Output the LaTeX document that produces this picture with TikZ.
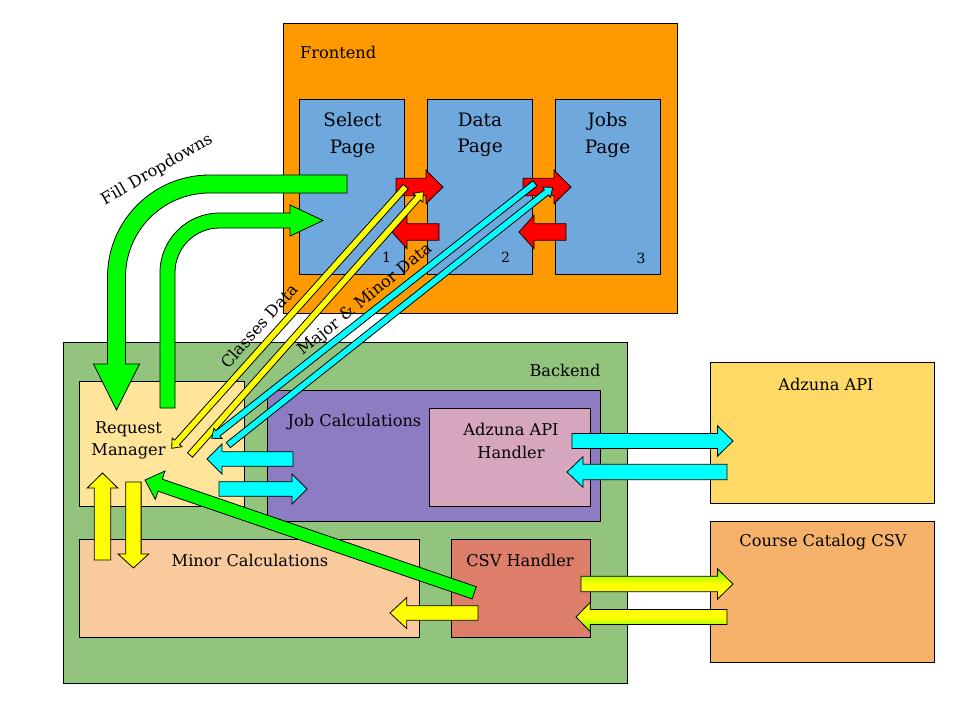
\documentclass[tikz,border=0pt]{standalone}
\usepackage{fontspec}
\setmainfont{DejaVu Serif}
\usetikzlibrary{calc}
\definecolor{feOrange}{HTML}{FF9900}
\definecolor{pageBlue}{HTML}{6FA8DC}
\definecolor{beGreen}{HTML}{93C47D}
\definecolor{rmYellow}{HTML}{FFE599}
\definecolor{jcPurple}{HTML}{8E7CC3}
\definecolor{ahPink}{HTML}{D5A6BD}
\definecolor{mcPeach}{HTML}{F9CB9C}
\definecolor{csvRed}{HTML}{DD7E6B}
\definecolor{apiGold}{HTML}{FFD966}
\definecolor{catOrange}{HTML}{F6B26B}
\definecolor{arrGreen}{HTML}{00FF00}
\definecolor{arrCyan}{HTML}{00FFFF}
\definecolor{arrYellow}{HTML}{FFFF00}
\definecolor{arrRed}{HTML}{FF0000}
\definecolor{limeTop}{RGB}{100,255,0}
\tikzset{
  box/.style={draw=black, line width=1pt, inner sep=0pt, outer sep=0pt, anchor=north west},
  lbl/.style={font=\fontsize{16.2}{22.5}\selectfont, inner sep=0pt, align=center},
  pglbl/.style={font=\fontsize{18.5}{26.5}\selectfont, inner sep=0pt, align=center},
  numlbl/.style={font=\fontsize{14}{16}\selectfont, inner sep=0pt},
  blk/.style={draw=black, line width=0.8pt, line join=miter},
}
% block arrow: [style]{tail}{tip}{shaft half width}{head half width}{head length}
\newcommand\barrow[6][]{%
  \coordinate (ba-h) at ($(#3)!#6!(#2)$);
  \path[blk,#1] ($(#2)!#4!90:(#3)$) -- ($(ba-h)!#4!-90:(#2)$) -- ($(ba-h)!#5!-90:(#2)$) -- (#3) -- ($(ba-h)!#5!90:(#2)$) -- ($(ba-h)!#4!90:(#2)$) -- ($(#2)!#4!-90:(#3)$) -- cycle;
}
\begin{document}
\begin{tikzpicture}[x=1pt,y=-1pt]
\useasboundingbox (0,0) rectangle (960,720);
% ---------- boxes ----------
\node[box, fill=feOrange, minimum width=394pt, minimum height=290pt] (fe) at (283,23) {};
\node[lbl, anchor=west] (feT) at (300,52) {Frontend};
\node[box, fill=pageBlue, minimum width=105pt, minimum height=175pt] (sel) at (299,99) {};
\node[box, fill=pageBlue, minimum width=105pt, minimum height=175pt] (dat) at (427,99) {};
\node[box, fill=pageBlue, minimum width=105pt, minimum height=175pt] (job) at (555,99) {};
\node[pglbl] (selT) at (352.5,135) {Select\\Page};
\node[pglbl] (datT) at (480,135) {Data\\Page};
\node[pglbl] (jobT) at (607.5,135) {Jobs\\Page};
\node[numlbl] (n1) at (386.5,257) {1};
\node[numlbl] (n2) at (505.5,257) {2};
\node[numlbl] (n3) at (641,258) {3};

\node[box, fill=beGreen, minimum width=564pt, minimum height=341pt] (be) at (63,342) {};
\node[lbl] (beT) at (565,370) {Backend};
\node[box, fill=rmYellow, minimum width=165pt, minimum height=125pt] (rm) at (79,381) {};
\node[lbl] (rmT) at (128.5,440.5) {Request\\Manager};
\node[box, fill=jcPurple, minimum width=333pt, minimum height=131pt] (jc) at (267,390) {};
\node[lbl] (jcT) at (354.5,422.5) {Job Calculations};
\node[box, fill=ahPink, minimum width=161pt, minimum height=98pt] (ah) at (429,408) {};
\node[lbl] (ahT) at (511,441) {Adzuna API\\Handler};
\node[box, fill=mcPeach, minimum width=340pt, minimum height=98pt] (mc) at (79,539) {};
\node[lbl] (mcT) at (250,560.5) {Minor Calculations};
\node[box, fill=csvRed, minimum width=139pt, minimum height=98pt] (csv) at (451,539) {};
\node[lbl] (csvT) at (520,560.5) {CSV Handler};

\node[box, fill=apiGold, minimum width=224pt, minimum height=141pt] (api) at (710,362) {};
\node[lbl] (apiT) at (826,384) {Adzuna API};
\node[box, fill=catOrange, minimum width=224pt, minimum height=141pt] (cat) at (710,521) {};
\node[lbl] (catT) at (823,542) {Course Catalog CSV};

% ---------- arrow end points ----------
\coordinate (r1a) at (396,187);   \coordinate (r1b) at (443,187);
\coordinate (r2a) at (523,187);   \coordinate (r2b) at (571,187);
\coordinate (r3a) at (439,232);   \coordinate (r3b) at (392,232);
\coordinate (r4a) at (566,232);   \coordinate (r4b) at (519,232);
\coordinate (c1a) at (572,441);   \coordinate (c1b) at (733,441);
\coordinate (c2a) at (727,472);   \coordinate (c2b) at (567,472);
\coordinate (c3a) at (293,459);   \coordinate (c3b) at (207,459);
\coordinate (c4a) at (219,489);   \coordinate (c4b) at (307,489);
\coordinate (g1a) at (581,584);   \coordinate (g1b) at (733,584);
\coordinate (g2a) at (727,617);   \coordinate (g2b) at (576,617);
\coordinate (y1a) at (102.5,560); \coordinate (y1b) at (102.5,473);
\coordinate (y2a) at (133.4,482); \coordinate (y2b) at (133.4,568);
\coordinate (y3a) at (478,613);   \coordinate (y3b) at (390,613);
\coordinate (gda) at (474.2,592.8); \coordinate (gdb) at (145,480);
\coordinate (yaa) at (405.7,186.7); \coordinate (yab) at (171.7,448.3);
\coordinate (yba) at (190,455);   \coordinate (ybb) at (423.3,191.7);
\coordinate (caa) at (535,183.3); \coordinate (cab) at (211.7,438.3);
\coordinate (cba) at (228.3,445); \coordinate (cbb) at (552.7,187.3);

% ---------- curved green arrows ----------
\path[blk, fill=arrGreen] (347,175) -- (209.5,175) .. controls (153.2,175) and (107.5,220.7) .. (107.5,277)
  -- (107.5,364) -- (93.5,364) -- (116.5,410) -- (139.5,364) -- (125.5,364) -- (125.5,277)
  .. controls (125.5,230.6) and (163.1,193) .. (209.5,193) -- (347,193) -- cycle;
\path[blk, fill=arrGreen] (160,408) -- (160,272.5) .. controls (160,239.7) and (186.7,213) .. (219.5,213)
  -- (290,213) -- (290,205) -- (323,220.5) -- (290,236) -- (290,228) -- (219.5,228)
  .. controls (194.9,228) and (175,247.9) .. (175,272.5) -- (175,408) -- cycle;

% ---------- red arrows ----------
\barrow[fill=arrRed]{r1a}{r1b}{8.7pt}{16.7pt}{17pt}
\barrow[fill=arrRed]{r2a}{r2b}{8.7pt}{16.7pt}{17pt}
\barrow[fill=arrRed]{r3a}{r3b}{8.3pt}{16.7pt}{15pt}
\barrow[fill=arrRed]{r4a}{r4b}{8.3pt}{16.7pt}{15pt}

% ---------- thin diagonal arrows ----------
\barrow[fill=arrYellow]{yaa}{yab}{3.3pt}{6.5pt}{8pt}
\barrow[fill=arrYellow]{yba}{ybb}{3.3pt}{6.5pt}{8pt}
\barrow[fill=arrCyan]{caa}{cab}{3.3pt}{6.5pt}{8pt}
\barrow[fill=arrCyan]{cba}{cbb}{3.3pt}{6.5pt}{8pt}

% ---------- backend arrows ----------
\barrow[fill=arrCyan]{c3a}{c3b}{7.2pt}{15pt}{15pt}
\barrow[fill=arrCyan]{c4a}{c4b}{7.2pt}{15pt}{15pt}
\barrow[fill=arrCyan]{c1a}{c1b}{7.5pt}{15.3pt}{15.6pt}
\barrow[fill=arrCyan]{c2a}{c2b}{7.7pt}{15.3pt}{16pt}
\barrow[top color=limeTop, bottom color=arrYellow, middle color=arrYellow]{g1a}{g1b}{7.7pt}{15.3pt}{15.6pt}
\barrow[top color=arrYellow, bottom color=limeTop, middle color=arrYellow]{g2a}{g2b}{7.5pt}{14.7pt}{14.3pt}
\barrow[fill=arrYellow]{y1a}{y1b}{8.2pt}{15.3pt}{15pt}
\barrow[fill=arrYellow]{y2a}{y2b}{7.7pt}{15.3pt}{14pt}
\barrow[fill=arrGreen]{gda}{gdb}{6.4pt}{15pt}{16pt}
\barrow[fill=arrYellow]{y3a}{y3b}{7.3pt}{15.5pt}{16.7pt}

% ---------- rotated labels ----------
\node[lbl, rotate=30] (fillT) at (157,170) {Fill Dropdowns};
\node[lbl, rotate=48] (clsT) at (259,326) {Classes Data};
\node[lbl, rotate=39] (majT) at (365,300) {Major \& Minor Data};
\end{tikzpicture}
\end{document}
